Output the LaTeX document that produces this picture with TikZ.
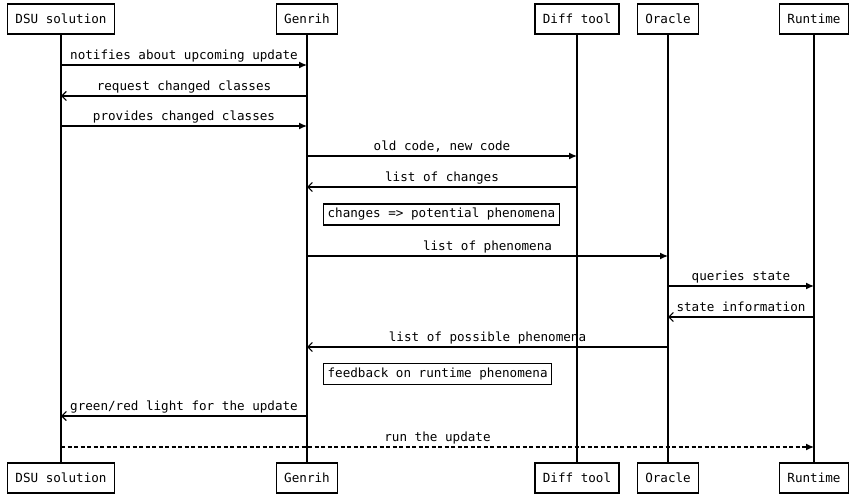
\documentclass[tikz,border=0pt]{standalone}
\usepackage{fontspec}
\setmonofont{DejaVu Sans Mono}
\usetikzlibrary{arrows.meta}
\begin{document}
\begin{tikzpicture}[x=1pt, y=-1pt, font=\ttfamily\fontsize{12.6}{15}\selectfont,
  actor/.style={draw, line width=1.3pt, minimum height=30pt, inner xsep=8pt, inner ysep=0pt},
  note/.style={draw, line width=1.3pt, minimum height=21pt, inner xsep=4pt, inner ysep=0pt, anchor=west},
  life/.style={line width=1.3pt},
  call/.style={line width=1.3pt, -{Latex[length=8pt, width=7pt]}},
  reply/.style={line width=1.2pt, -{Straight Barb[length=4.5pt, width=9pt]}},
  lbl/.style={midway, above, inner ysep=2.5pt, text height=9pt, text depth=2.5pt}]
\useasboundingbox (0,0) rectangle (850,494);
% participants
\node[actor] (dsu) at (61,19) {DSU solution};
\node[actor] (gen) at (307,19) {Genrih};
\node[actor] (diff) at (577,19) {Diff tool};
\node[actor] (orc) at (668,19) {Oracle};
\node[actor] (rt) at (814,19) {Runtime};
\node[actor] (dsu2) at (61,478) {DSU solution};
\node[actor] (gen2) at (307,478) {Genrih};
\node[actor] (diff2) at (577,478) {Diff tool};
\node[actor] (orc2) at (668,478) {Oracle};
\node[actor] (rt2) at (814,478) {Runtime};
\foreach \a in {dsu, gen, diff, orc, rt}
  \draw[life] (\a) -- (\a2);
% message rows
\coordinate (m1) at (0,65);
\coordinate (m2) at (0,96);
\coordinate (m3) at (0,126);
\coordinate (m4) at (0,156);
\coordinate (m5) at (0,187);
\coordinate (m7) at (0,256);
\coordinate (m8) at (0,286);
\coordinate (m9) at (0,317);
\coordinate (m10) at (0,347);
\coordinate (m12) at (0,416);
\coordinate (m13) at (0,447);
% messages
\draw[call] (dsu |- m1) -- (gen |- m1) node[lbl] {notifies about upcoming update};
\draw[reply] (gen |- m2) -- (dsu |- m2) node[lbl] {request changed classes};
\draw[call] (dsu |- m3) -- (gen |- m3) node[lbl] {provides changed classes};
\draw[call] (gen |- m4) -- (diff |- m4) node[lbl] {old code, new code};
\draw[reply] (diff |- m5) -- (gen |- m5) node[lbl] {list of changes};
\node[note] (n1) at (323,214.5) {changes => potential phenomena};
\draw[call] (gen |- m7) -- (orc |- m7) node[lbl] {list of phenomena};
\draw[call] (orc |- m8) -- (rt |- m8) node[lbl] {queries state};
\draw[reply] (rt |- m9) -- (orc |- m9) node[lbl] {state information};
\draw[reply] (orc |- m10) -- (gen |- m10) node[lbl] {list of possible phenomena};
\node[note] (n2) at (323,374) {feedback on runtime phenomena};
\draw[reply] (gen |- m12) -- (dsu |- m12) node[lbl] {green/red light for the update};
\draw[call, dash pattern=on 4pt off 2.5pt] (dsu |- m13) -- (rt |- m13) node[lbl] {run the update};
\end{tikzpicture}
\end{document}
